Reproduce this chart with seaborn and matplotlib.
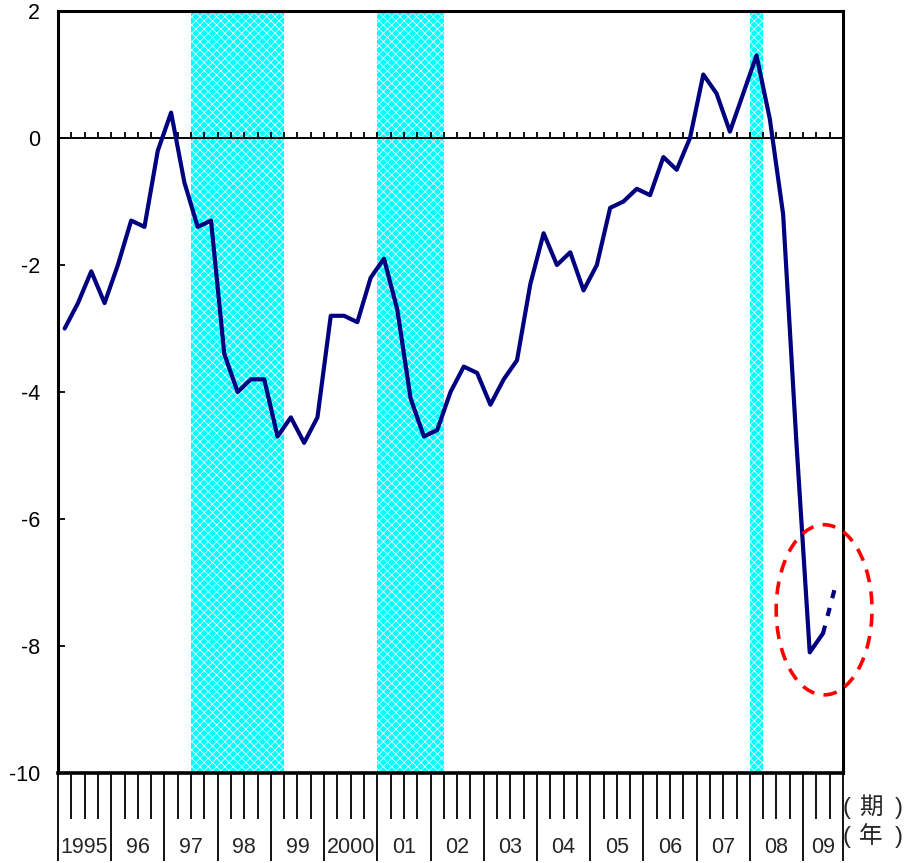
import numpy as np
import pandas as pd
import matplotlib
matplotlib.use("Agg")
import matplotlib.pyplot as plt
from matplotlib.patches import Ellipse
import seaborn as sns

# Output gap, quarterly, 1995Q1 - 2009Q2 (%)
gap = [-3.0, -2.6, -2.1, -2.6, -2.0, -1.3, -1.4, -0.2,
       0.4, -0.7, -1.4, -1.3, -3.4, -4.0, -3.8, -3.8,
       -4.7, -4.4, -4.8, -4.4, -2.8, -2.8, -2.9, -2.2,
       -1.9, -2.7, -4.1, -4.7, -4.6, -4.0, -3.6, -3.7,
       -4.2, -3.8, -3.5, -2.3, -1.5, -2.0, -1.8, -2.4,
       -2.0, -1.1, -1.0, -0.8, -0.9, -0.3, -0.5, 0.0,
       1.0, 0.7, 0.1, 0.7, 1.3, 0.3, -1.2, -4.8,
       -8.1, -7.8]
# Projection for 2009Q3
gap_proj = [-7.8, -7.0]

year_labels = ["1995", "96", "97", "98", "99", "2000", "01", "02",
               "03", "04", "05", "06", "07", "08", "09"]
quarters_per_year = [4] * 14 + [3]

# Recession periods as (first quarter index, last quarter index)
recessions = [(10, 16), (24, 28), (52, 52)]

n_q = sum(quarters_per_year)
df = pd.DataFrame({"q": np.arange(len(gap)), "gap": gap})
df_proj = pd.DataFrame({"q": [len(gap) - 1, len(gap)], "gap": gap_proj})

sns.set_style("white")
plt.rcParams["font.family"] = ["Liberation Sans", "Noto Sans CJK JP"]
plt.rcParams["hatch.linewidth"] = 0.55

fig = plt.figure(figsize=(9.05, 8.63), dpi=100)
ax = fig.add_axes([58 / 905, 90 / 863, 785 / 905, 762 / 863])

navy = "#000080"

# shaded recession bands
for a, b in recessions:
    ax.axvspan(a - 0.5, b + 0.5, facecolor="#00FFFF", edgecolor="white",
               hatch="xxxx", linewidth=0, zorder=0)

# zero line with small quarter ticks
ax.axhline(0, color="black", lw=1.4, zorder=1)
inner = np.arange(0.5, n_q - 1, 1.0)
ax.vlines(inner, 0, 0.095, color="black", lw=1.3, zorder=1)

sns.lineplot(data=df, x="q", y="gap", ax=ax, color=navy, lw=3.0, zorder=3)
sns.lineplot(data=df_proj, x="q", y="gap", ax=ax, color=navy, lw=3.0,
             zorder=3)
ax.lines[-1].set_linestyle((4.5, (2.0, 2.4)))

ax.add_patch(Ellipse((57.08, -7.43), width=7.2, height=2.68, fill=False,
                     edgecolor="red", lw=2.6, linestyle=(0, (3.6, 2.6)),
                     clip_on=False, zorder=4))

ax.set_xlim(-0.5, n_q - 0.5)
ax.set_ylim(-10, 2)
ax.set_xlabel("")
ax.set_ylabel("")

# y axis
ax.set_yticks(np.arange(-10, 3, 2))
ax.set_yticklabels([f"{v:d}" for v in range(-10, 3, 2)])
ax.tick_params(axis="y", which="major", direction="in", length=5, width=1.3,
               pad=13, labelsize=15.5, left=True, right=False,
               colors="black")

# x axis: long ticks at year boundaries, short ticks at quarter boundaries
bounds = np.concatenate([[0], np.cumsum(quarters_per_year)]) - 0.5
all_q = np.arange(-0.5, n_q, 1.0)
minor = [v for v in all_q if not np.any(np.isclose(v, bounds))]
ax.set_xticks(bounds)
ax.set_xticklabels([])
ax.set_xticks(minor, minor=True)
ax.tick_params(axis="x", which="major", direction="out", length=63,
               width=1.3, bottom=True, colors="black")
ax.tick_params(axis="x", which="minor", direction="out", length=33,
               width=1.3, bottom=True, colors="black")

trans = ax.get_xaxis_transform()
for lab, a, b in zip(year_labels, bounds[:-1], bounds[1:]):
    ax.text((a + b) / 2, -0.098, lab, transform=trans, ha="center",
            va="center", fontsize=15.5)

# unit notes to the right of the axis
for word, yy in (("期", -0.046), ("年", -0.084)):
    for dx, s in ((4, "("), (28, word), (56, ")")):
        ax.annotate(s, xy=(1.0, yy), xycoords="axes fraction",
                    xytext=(dx / 1.389, 0), textcoords="offset points",
                    ha="center", va="center", fontsize=17,
                    annotation_clip=False)

for s in ax.spines.values():
    s.set_visible(True)
    s.set_color("black")
    s.set_linewidth(2.2)
ax.spines["bottom"].set_linewidth(2.6)

fig.savefig("out.png", dpi=100)
